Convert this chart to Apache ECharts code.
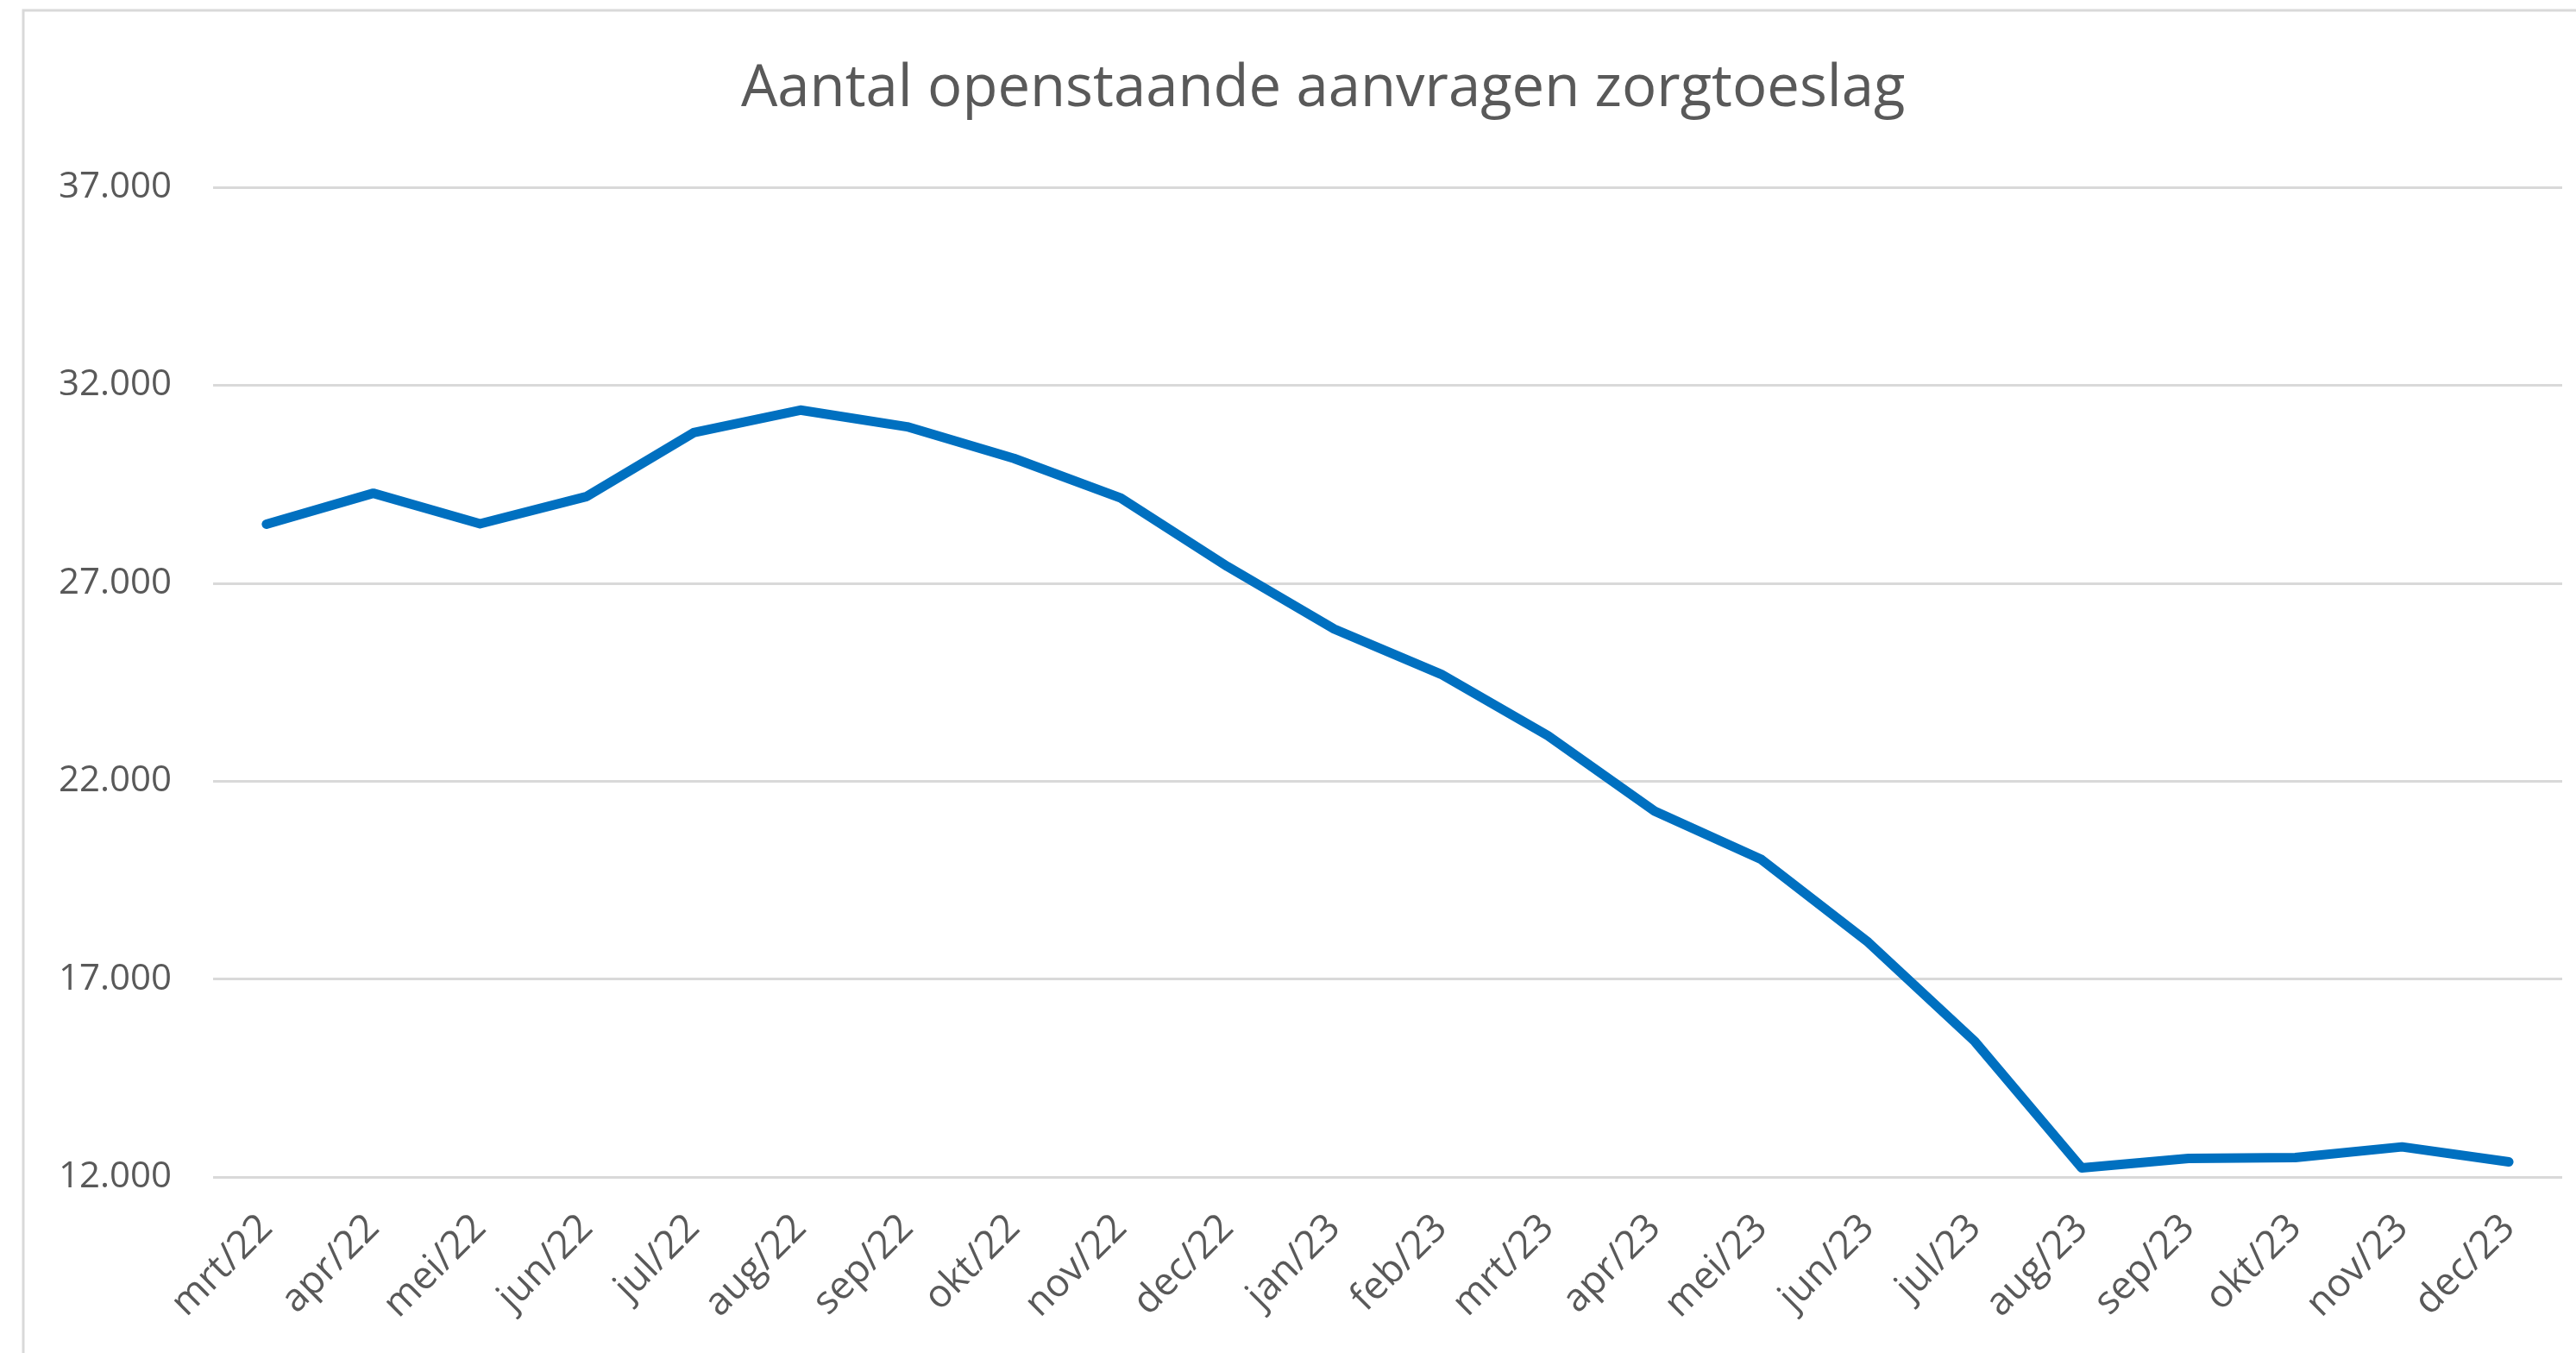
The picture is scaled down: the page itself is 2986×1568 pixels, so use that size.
<!DOCTYPE html>
<html>
<head>
<meta charset="utf-8">
<title>Aantal openstaande aanvragen zorgtoeslag</title>
<script src="https://cdn.jsdelivr.net/npm/echarts@6/dist/echarts.min.js"></script>
<style>
  html, body { margin: 0; padding: 0; background: #fff; }
  #chart { width: 2986px; height: 1568px; }
</style>
</head>
<body>
<div id="chart"></div>
<script>
// maanden (x-as)
const maanden = [
    'mrt/22', 'apr/22', 'mei/22', 'jun/22', 'jul/22', 'aug/22', 'sep/22', 'okt/22', 'nov/22', 'dec/22',
    'jan/23', 'feb/23', 'mrt/23', 'apr/23', 'mei/23', 'jun/23', 'jul/23', 'aug/23', 'sep/23', 'okt/23', 'nov/23', 'dec/23'
];
// openstaande aanvragen
const openstaand = [
    28490, 29270, 28500, 29190, 30800, 31370, 30950, 30150, 29150, 27420,
    25840, 24700, 23150, 21240, 20020, 17930, 15420, 12230, 12470, 12490, 12760, 12380
];
const yMin = 12000;
const yMax = 37000;
const yStap = 5000;

const grijs = '#595959';
const font = '"Open Sans", "Noto Sans", sans-serif';

function nlGetal(v) {
    // 37000 -> 37.000
    return String(v).replace(/\B(?=(\d{3})+(?!\d))/g, '.');
}

const chart = echarts.init(document.getElementById('chart'), null, { renderer: 'canvas' });

const options = {
    backgroundColor: '#fff',
    animation: false,
    title: {
        text: 'Aantal openstaande aanvragen zorgtoeslag',
        left: 859,
        top: 70,
        padding: 0,
        textStyle: {
            color: grijs,
            fontFamily: font,
            fontSize: 67,
            fontWeight: 'normal'
        }
    },
    graphic: [{
        // rand van het grafiekgebied
        type: 'rect',
        silent: true,
        shape: { x: 27, y: 12, width: 3100, height: 1700 },
        style: { fill: 'none', stroke: '#d9d9d9', lineWidth: 3 }
    }],
    grid: {
        left: 247,
        right: 16,
        top: 217,
        bottom: 204,
        containLabel: false
    },
    xAxis: {
        type: 'category',
        data: maanden,
        boundaryGap: true,
        axisLine: { show: false },
        axisTick: { show: false },
        axisLabel: {
            rotate: 45,
            margin: 52,
            interval: 0,
            color: grijs,
            fontFamily: font,
            fontSize: 45
        }
    },
    yAxis: {
        type: 'value',
        min: yMin,
        max: yMax,
        interval: yStap,
        axisLine: { show: false },
        axisTick: { show: false },
        axisLabel: {
            margin: 48,
            color: grijs,
            fontFamily: font,
            fontSize: 42,
            formatter: nlGetal
        },
        splitLine: {
            lineStyle: { color: '#d9d9d9', width: 3 }
        }
    },
    series: [{
        type: 'line',
        data: openstaand,
        showSymbol: false,
        symbol: 'none',
        lineStyle: {
            color: '#0070C0',
            width: 11,
            cap: 'round',
            join: 'round'
        }
    }]
};

chart.setOption(options);

window.addEventListener('resize', function () {
    chart.resize();
});
</script>
</body>
</html>
